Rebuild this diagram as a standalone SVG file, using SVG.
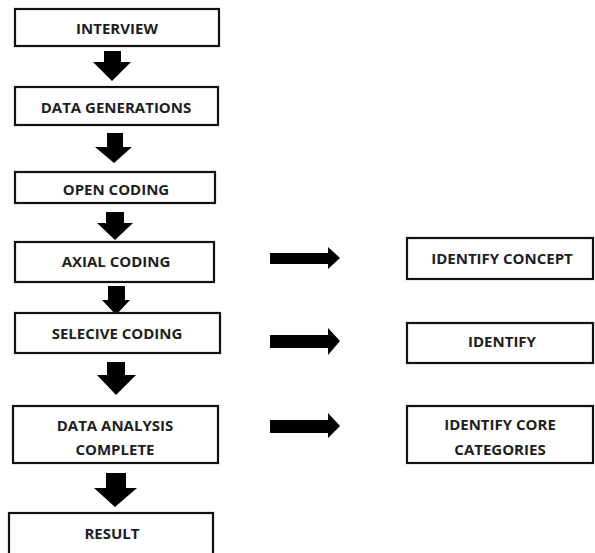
<svg xmlns="http://www.w3.org/2000/svg" width="595" height="553" viewBox="0 0 595 553">
<style>
.box{fill:#fff;stroke:#111;stroke-width:2.2}
.t{font-family:"Open Sans","Liberation Sans",sans-serif;font-weight:bold;font-size:15px;fill:#1e1e1e;text-anchor:middle;dominant-baseline:central}
.arr{fill:#000}
</style>
<rect width="595" height="553" fill="#fff"/>
<g id="connectors">
<path class="arr" d="M104,51 H121 V62 H131 L112,81 L93,62 H104 Z"/>
<path class="arr" d="M107,133 H123 V147 H132 L114,163 L95,147 H107 Z"/>
<path class="arr" d="M106,212 H124 V223 H133 L115,240 L97,223 H106 Z"/>
<path class="arr" d="M108,286 H125 V300 H130 L116,315 L102,300 H108 Z"/>
<path class="arr" d="M107,362 H125 V375 H136 L116,395 L97,375 H107 Z"/>
<path class="arr" d="M106,473 H126 V488 H137 L115,507 L94,488 H106 Z"/>
<path class="arr" d="M270,253 H328 V247 L340,258 L328,269 V264 H270 Z"/>
<path class="arr" d="M270,335 H328 V328 L340,341 L328,355 V348 H270 Z"/>
<path class="arr" d="M270,420 H328 V413 L340,426 L328,438 V433 H270 Z"/>
</g>
<g id="interview"><rect class="box" x="15" y="9" width="204" height="37"/><text class="t" x="117" y="28">INTERVIEW</text></g>
<g id="data-generations"><rect class="box" x="15" y="87" width="203" height="38"/><text class="t" x="116" y="107">DATA GENERATIONS</text></g>
<g id="open-coding"><rect class="box" x="15" y="172" width="200" height="31"/><text class="t" x="116" y="189">OPEN CODING</text></g>
<g id="axial-coding"><rect class="box" x="15" y="242" width="199" height="40"/><text class="t" x="116" y="261">AXIAL CODING</text></g>
<g id="selecive-coding"><rect class="box" x="15" y="313" width="205" height="40"/><text class="t" x="117" y="333">SELECIVE CODING</text></g>
<g id="data-analysis"><rect class="box" x="13" y="406" width="205" height="57"/><text class="t" x="115" y="425">DATA ANALYSIS</text><text class="t" x="115" y="449">COMPLETE</text></g>
<g id="result"><rect class="box" x="9" y="513" width="204" height="50"/><text class="t" x="112" y="533">RESULT</text></g>
<g id="identify-concept"><rect class="box" x="407" y="238" width="186" height="41"/><text class="t" x="502" y="258">IDENTIFY CONCEPT</text></g>
<g id="identify"><rect class="box" x="407" y="323" width="186" height="40"/><text class="t" x="502" y="341">IDENTIFY</text></g>
<g id="identify-core"><rect class="box" x="407" y="406" width="186" height="57"/><text class="t" x="500" y="424">IDENTIFY CORE</text><text class="t" x="500" y="449">CATEGORIES</text></g>
</svg>
